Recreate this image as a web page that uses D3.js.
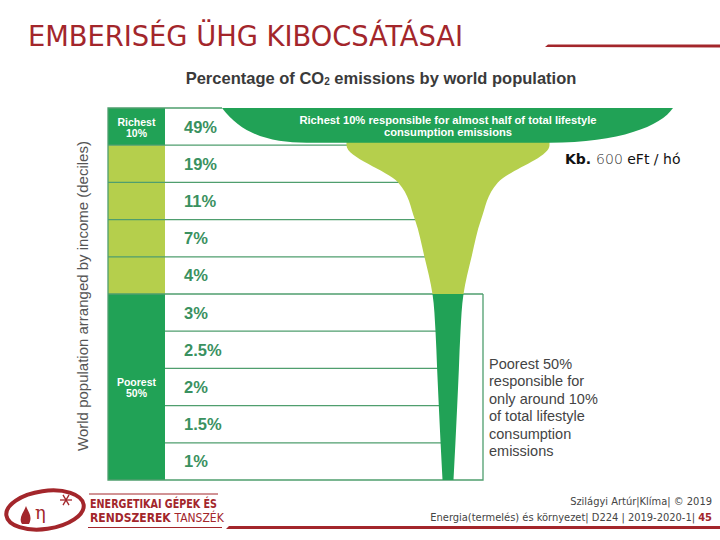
<!DOCTYPE html>
<html>
<head>
<meta charset="UTF-8">
<title>Emberiség ÜHG kibocsátásai</title>
<style>
  html, body { margin: 0; padding: 0; background: #fff; }
  svg { display: block; }
</style>
</head>
<body>
<div id="chart"></div>
<script src="https://cdn.jsdelivr.net/npm/d3@7"></script>
<script>
// share of lifestyle consumption emissions per income decile, richest first
var shareValues = [49, 19, 11, 7, 4, 3, 2.5, 2, 1.5, 1];
var shareLabels = ["49%", "19%", "11%", "7%", "4%", "3%", "2.5%", "2%", "1.5%", "1%"];

// left column groups: first and last decile of each
var groupNames = [["Richest", "10%"], [], ["Poorest", "50%"]];
var groupRange = [[0, 0], [1, 4], [5, 9]];
var groupDark = [true, false, true];

var richNote = ["Richest 10% responsible for almost half of total lifestyle", "consumption emissions"];
var poorNote = ["Poorest 50%", "responsible for", "only around 10%", "of total lifestyle", "consumption", "emissions"];

var width = 720, height = 540;
var darkGreen = "#21a256", lightGreen = "#b5cf4c", lineGreen = "#4f9e6e", textGreen = "#3a9160";
var red = "#a3262b";

var frame = { left: 108, col: 165, top: 108, bottom: 480, right: 483 };
var cx = 448;

var svg = d3.select("#chart").append("svg")
  .attr("width", width).attr("height", height);

var y = d3.scaleBand().domain(d3.range(shareValues.length)).range([frame.top, frame.bottom]);
var bw = y.bandwidth();
// funnel width at the bottom edge of each decile
var wScale = d3.scalePow().exponent(0.75).domain([0, 49]).range([0, 203]);

// ---- slide header
svg.append("text")
  .attr("x", 28).attr("y", 46)
  .attr("font-family", "Liberation Sans Narrow, DejaVu Sans Condensed, sans-serif")
  .attr("font-size", 28).attr("fill", red)
  .attr("textLength", 435).attr("lengthAdjust", "spacingAndGlyphs")
  .text("EMBERISÉG ÜHG KIBOCSÁTÁSAI");
svg.append("path")
  .attr("d", "M545,47 L548,44.5 L720,44.5 L720,47.5 Z")
  .attr("fill", red);

// ---- chart title
var title = svg.append("text")
  .attr("x", 381).attr("y", 84)
  .attr("text-anchor", "middle")
  .attr("font-family", "Liberation Sans, Arial, sans-serif")
  .attr("font-weight", "bold").attr("font-size", 16.5).attr("fill", "#3a3a3a");
title.append("tspan").text("Percentage of CO");
title.append("tspan").attr("font-size", 10).attr("dy", 1).text("2");
title.append("tspan").attr("dy", -1).text(" emissions by world population");

// ---- left column cells
groupRange.forEach(function(r, g) {
  svg.append("rect")
    .attr("x", frame.left).attr("y", y(r[0]))
    .attr("width", frame.col - frame.left)
    .attr("height", y(r[1]) + bw - y(r[0]))
    .attr("fill", groupDark[g] ? darkGreen : lightGreen);
  var mid = (y(r[0]) + y(r[1]) + bw) / 2;
  groupNames[g].forEach(function(t, k) {
    svg.append("text")
      .attr("x", (frame.left + frame.col) / 2).attr("y", mid - 1 + k * 11)
      .attr("text-anchor", "middle")
      .attr("font-family", "Liberation Sans, Arial, sans-serif")
      .attr("font-weight", "bold").attr("font-size", 10.5).attr("fill", "#fff")
      .text(t);
  });
});

// ---- row lines
var lines = svg.append("g").attr("stroke", lineGreen).attr("stroke-width", 1.3);
d3.range(1, shareValues.length).forEach(function(i) {
  var upper = i <= groupRange[1][1] + 1;
  lines.append("line")
    .attr("x1", upper ? frame.left : frame.col)
    .attr("x2", i === groupRange[2][0] ? frame.right : cx)
    .attr("y1", y(i)).attr("y2", y(i));
});
// outer frame
lines.append("path")
  .attr("fill", "none")
  .attr("d", "M" + (cx - 226) + "," + frame.top + "H" + frame.left + "V" + frame.bottom +
    "H" + frame.right + "V" + y(groupRange[2][0]));

// ---- funnel
var pts = [{ y: y(0) + bw * 0.45, v: shareValues[0] }].concat(shareValues.map(function(v, i) {
  return { y: y(i) + bw, v: v };
}));
var funnel = d3.area()
  .curve(d3.curveMonotoneY)
  .y(function(d) { return d.y; })
  .x0(function(d) { return cx - wScale(d.v) / 2; })
  .x1(function(d) { return cx + wScale(d.v) / 2; });

var defs = svg.append("defs");
var split = y(groupRange[2][0]);
defs.append("clipPath").attr("id", "clipTop").append("rect")
  .attr("x", 0).attr("y", 0).attr("width", width).attr("height", split);
defs.append("clipPath").attr("id", "clipBottom").append("rect")
  .attr("x", 0).attr("y", split).attr("width", width).attr("height", height - split);

svg.append("path").attr("d", funnel(pts)).attr("fill", lightGreen).attr("clip-path", "url(#clipTop)");
svg.append("path").attr("d", funnel(pts)).attr("fill", darkGreen).attr("clip-path", "url(#clipBottom)");

// top band for the richest decile
var topW = wScale(shareValues[0]) / 2;
var bandBottom = y(0) + bw - 2.5;
var reach = 225;
svg.append("path")
  .attr("fill", darkGreen)
  .attr("d",
    "M" + (cx - reach - 1) + "," + frame.top +
    "C" + (cx - reach + 20) + "," + (frame.top + 28) + " " + (cx - reach + 50) + "," + bandBottom + " " + (cx - topW - 40) + "," + bandBottom +
    "L" + (cx + topW) + "," + bandBottom +
    "C" + (cx + topW + 70) + "," + bandBottom + " " + (cx + reach - 12) + "," + (frame.top + 18) + " " + (cx + reach) + "," + frame.top +
    "Z");

richNote.forEach(function(t, k) {
  svg.append("text")
    .attr("x", cx).attr("y", 124 + k * 12)
    .attr("text-anchor", "middle")
    .attr("font-family", "Liberation Sans, Arial, sans-serif")
    .attr("font-weight", "bold").attr("font-size", 11.2).attr("fill", "#fff")
    .text(t);
});

// ---- percentage labels
svg.selectAll(".share")
  .data(shareLabels)
  .enter().append("text")
  .attr("class", "share")
  .attr("x", 184)
  .attr("y", function(d, i) { return y(i) + bw / 2 + 6; })
  .attr("font-family", "Liberation Sans, Arial, sans-serif")
  .attr("font-weight", "bold").attr("font-size", 16.5).attr("fill", textGreen)
  .text(function(d) { return d; });

// ---- axis label
svg.append("text")
  .attr("transform", "translate(88,296) rotate(-90)")
  .attr("text-anchor", "middle")
  .attr("font-family", "Liberation Sans, Arial, sans-serif")
  .attr("font-size", 15).attr("fill", "#555")
  .text("World population arranged by income (deciles)");

// ---- poorest note
poorNote.forEach(function(t, k) {
  svg.append("text")
    .attr("x", 489).attr("y", 369 + k * 17.4)
    .attr("font-family", "Liberation Sans, Arial, sans-serif")
    .attr("font-size", 14.5).attr("fill", "#444")
    .text(t);
});

// ---- income note
var kb = svg.append("text")
  .attr("x", 565).attr("y", 164)
  .attr("font-family", "DejaVu Sans, sans-serif")
  .attr("font-size", 14).attr("fill", "#111");
kb.append("tspan").attr("font-weight", "bold").text("Kb. ");
kb.append("tspan").attr("font-weight", 300).attr("fill", "#333").text("600 ");
kb.append("tspan").text("eFt / hó");

// ---- footer
var foot = svg.append("g");
foot.append("ellipse")
  .attr("cx", 45).attr("cy", 510).attr("rx", 39).attr("ry", 19)
  .attr("transform", "rotate(-8,45,510)")
  .attr("fill", "none").attr("stroke", red).attr("stroke-width", 4);
foot.append("path")
  .attr("d", "M22,524 C18,518 24,512 26,506 C28,512 33,516 29,524 Z")
  .attr("fill", red);
foot.append("text").attr("x", 35).attr("y", 519)
  .attr("font-family", "DejaVu Serif, serif").attr("font-size", 18).attr("fill", red).text("η");
// snowflake
var flake = foot.append("g").attr("transform", "translate(66,500)")
  .attr("stroke", red).attr("stroke-width", 1.3);
[0, 60, 120].forEach(function(a) {
  flake.append("line").attr("x1", -6).attr("x2", 6).attr("y1", 0).attr("y2", 0)
    .attr("transform", "rotate(" + a + ")");
});
foot.append("line").attr("x1", 89).attr("x2", 218).attr("y1", 494).attr("y2", 494)
  .attr("stroke", red).attr("stroke-width", 1);
foot.append("text").attr("x", 90).attr("y", 508)
  .attr("font-family", "Liberation Sans Narrow, DejaVu Sans Condensed, sans-serif")
  .attr("font-weight", "bold").attr("font-size", 12).attr("fill", red)
  .attr("textLength", 127).attr("lengthAdjust", "spacingAndGlyphs")
  .text("ENERGETIKAI GÉPEK ÉS");
var dept = foot.append("text").attr("x", 90).attr("y", 522)
  .attr("font-family", "Liberation Sans Narrow, DejaVu Sans Condensed, sans-serif")
  .attr("font-size", 12).attr("fill", red);
dept.append("tspan").attr("font-weight", "bold").text("RENDSZEREK ");
dept.append("tspan").text("TANSZÉK");
foot.append("line").attr("x1", 88).attr("x2", 222).attr("y1", 527.5).attr("y2", 527.5)
  .attr("stroke", red).attr("stroke-width", 1);
foot.append("path").attr("d", "M226,529 L229,526 L720,526 L720,529 Z").attr("fill", red);

foot.append("text").attr("x", 712).attr("y", 505).attr("text-anchor", "end")
  .attr("font-family", "Liberation Sans Narrow, DejaVu Sans Condensed, sans-serif")
  .attr("font-size", 11).attr("fill", "#444")
  .text("Szilágyi Artúr|Klíma| © 2019");
var src = foot.append("text").attr("x", 712).attr("y", 521).attr("text-anchor", "end")
  .attr("font-family", "Liberation Sans Narrow, DejaVu Sans Condensed, sans-serif")
  .attr("font-size", 11).attr("fill", "#444");
src.append("tspan").text("Energia(termelés) és környezet| D224 | 2019-2020-1| ");
src.append("tspan").attr("font-weight", "bold").attr("fill", red).text("45");
</script>
</body>
</html>
